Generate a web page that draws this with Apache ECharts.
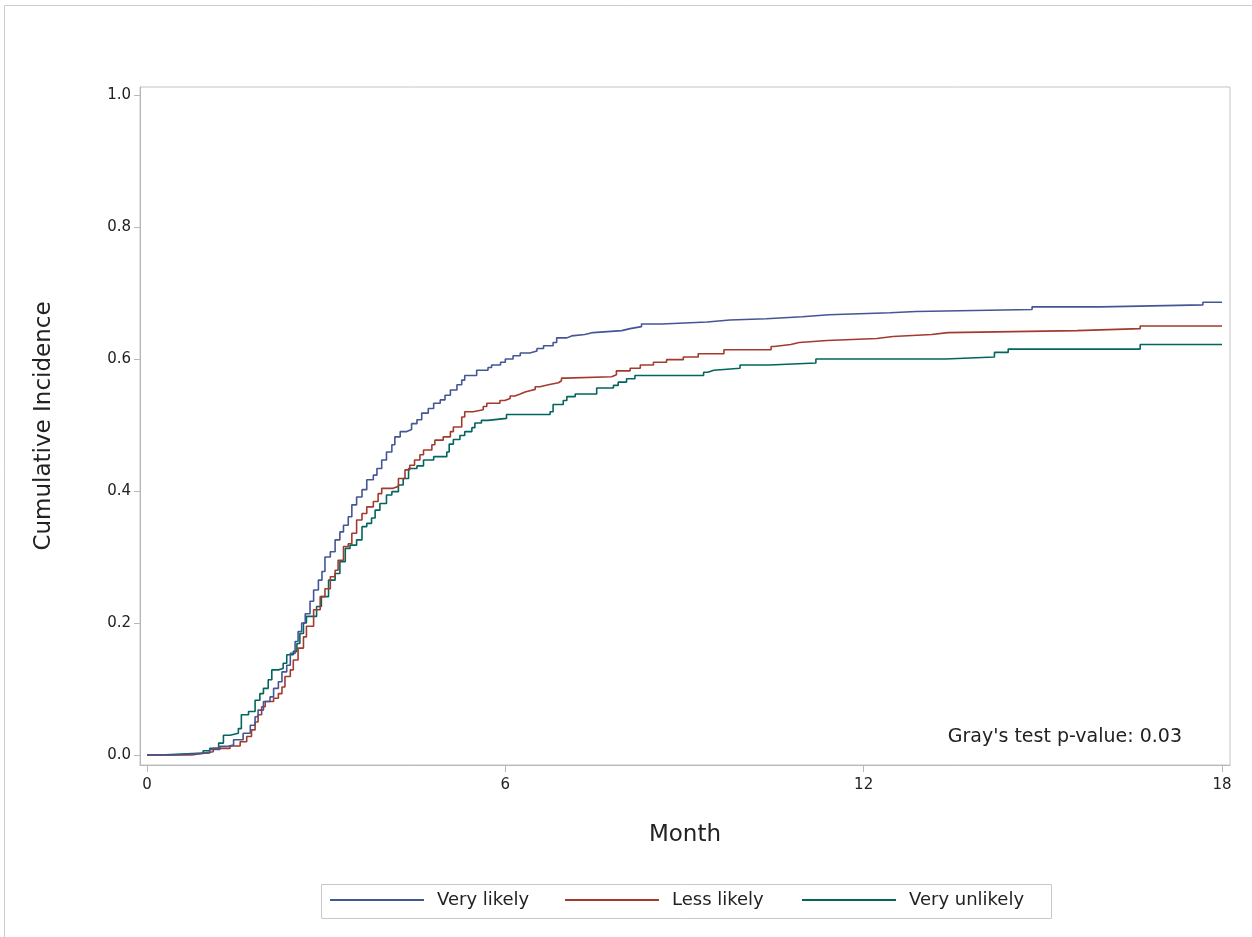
<!DOCTYPE html>
<html>
<head>
<meta charset="utf-8">
<script src="https://cdn.jsdelivr.net/npm/echarts@6/dist/echarts.min.js"></script>
<style>html,body{margin:0;padding:0;background:#fff}#c{width:1252px;height:937px}</style>
</head>
<body>
<div id="c"></div>
<script>
var seriesNames = ['Very likely', 'Less likely', 'Very unlikely'];
var xTicks = [0, 6, 12, 18];
var yTicks = [0, 0.2, 0.4, 0.6, 0.8, 1.0];
var annotation = "Gray's test p-value: 0.03";

var veryLikely = [[0,0],[0.44,0.003],[1.05,0.0085],[1.22,0.013],[1.33,0.015],[1.45,0.023],[1.61,0.033],[1.73,0.045],[1.81,0.058],[1.86,0.068],[1.95,0.081],[2.06,0.088],[2.12,0.101],[2.20,0.111],[2.26,0.126],[2.34,0.136],[2.40,0.154],[2.48,0.172],[2.53,0.187],[2.59,0.200],[2.65,0.214],[2.73,0.233],[2.79,0.250],[2.87,0.265],[2.93,0.278],[2.98,0.300],[3.07,0.308],[3.15,0.326],[3.23,0.338],[3.29,0.348],[3.37,0.361],[3.43,0.379],[3.51,0.391],[3.60,0.402],[3.68,0.417],[3.79,0.424],[3.85,0.434],[3.93,0.447],[4.01,0.459],[4.10,0.470],[4.15,0.482],[4.24,0.490],[4.35,0.493],[4.43,0.502],[4.52,0.508],[4.60,0.518],[4.71,0.525],[4.80,0.533],[4.91,0.538],[4.99,0.545],[5.08,0.553],[5.19,0.561],[5.27,0.568],[5.32,0.575],[5.52,0.583],[5.71,0.587],[5.77,0.591],[5.92,0.595],[6.00,0.600],[6.13,0.605],[6.25,0.609],[6.41,0.612],[6.53,0.616],[6.64,0.620],[6.80,0.625],[6.86,0.632],[7.03,0.635],[7.11,0.637],[7.33,0.640],[7.47,0.643],[7.95,0.646],[8.09,0.649],[8.28,0.653],[8.62,0.656],[9.38,0.659],[9.76,0.661],[10.37,0.664],[10.97,0.667],[11.42,0.670],[12.44,0.672],[12.88,0.675],[14.82,0.679],[15.97,0.682],[17.68,0.686],[18.0,0.686]];

var lessLikely = [[0,0],[0.75,0.0025],[0.92,0.005],[1.11,0.010],[1.39,0.0136],[1.56,0.020],[1.67,0.028],[1.75,0.038],[1.81,0.050],[1.86,0.061],[1.92,0.073],[1.98,0.081],[2.12,0.086],[2.20,0.093],[2.26,0.103],[2.31,0.119],[2.40,0.129],[2.45,0.144],[2.53,0.162],[2.62,0.179],[2.67,0.195],[2.79,0.220],[2.90,0.240],[2.98,0.252],[3.07,0.270],[3.15,0.280],[3.20,0.295],[3.29,0.316],[3.37,0.320],[3.43,0.336],[3.51,0.356],[3.60,0.366],[3.68,0.376],[3.79,0.384],[3.87,0.396],[3.93,0.404],[4.12,0.407],[4.21,0.419],[4.32,0.432],[4.40,0.439],[4.48,0.447],[4.57,0.455],[4.63,0.462],[4.77,0.470],[4.82,0.477],[4.96,0.482],[5.08,0.490],[5.13,0.497],[5.27,0.512],[5.32,0.520],[5.46,0.523],[5.63,0.528],[5.69,0.533],[5.91,0.537],[5.99,0.540],[6.08,0.544],[6.16,0.547],[6.25,0.550],[6.33,0.552],[6.41,0.554],[6.50,0.558],[6.58,0.561],[6.72,0.564],[6.89,0.567],[6.94,0.571],[7.00,0.573],[7.78,0.576],[7.86,0.582],[8.09,0.586],[8.26,0.591],[8.48,0.595],[8.70,0.599],[8.98,0.603],[9.23,0.608],[9.66,0.614],[10.45,0.619],[10.50,0.622],[10.78,0.625],[10.92,0.628],[11.39,0.631],[12.22,0.634],[12.49,0.637],[13.14,0.640],[13.41,0.643],[15.57,0.646],[16.63,0.650],[18.0,0.650]];

var veryUnlikely = [[0,0],[0.22,0.003],[0.94,0.0065],[1.05,0.010],[1.20,0.018],[1.28,0.030],[1.39,0.033],[1.53,0.040],[1.58,0.061],[1.70,0.066],[1.81,0.083],[1.89,0.093],[1.95,0.101],[2.03,0.114],[2.09,0.129],[2.20,0.131],[2.28,0.139],[2.34,0.152],[2.45,0.157],[2.51,0.169],[2.56,0.184],[2.62,0.200],[2.67,0.210],[2.84,0.225],[2.92,0.240],[3.04,0.265],[3.15,0.275],[3.23,0.293],[3.32,0.313],[3.40,0.318],[3.51,0.326],[3.60,0.346],[3.68,0.351],[3.76,0.359],[3.82,0.371],[3.90,0.381],[4.01,0.394],[4.10,0.399],[4.21,0.409],[4.29,0.419],[4.38,0.434],[4.52,0.438],[4.63,0.447],[4.80,0.452],[5.02,0.459],[5.06,0.471],[5.13,0.478],[5.24,0.484],[5.32,0.490],[5.44,0.496],[5.49,0.503],[5.60,0.507],[5.71,0.510],[6.02,0.516],[6.75,0.520],[6.80,0.531],[6.97,0.537],[7.03,0.543],[7.17,0.547],[7.53,0.556],[7.81,0.560],[7.89,0.565],[8.03,0.570],[8.17,0.575],[9.32,0.580],[9.39,0.583],[9.49,0.586],[9.93,0.591],[10.42,0.594],[11.20,0.600],[13.37,0.603],[14.19,0.610],[14.42,0.615],[16.63,0.622],[18.0,0.622]];

var colors = ['#445694', '#A23A2E', '#01665E'];
var seriesData = [veryLikely, lessLikely, veryUnlikely];
var legendLefts = [330, 565, 802];
var FONT = 'DejaVu Sans';

var chart = echarts.init(document.getElementById('c'), null, {renderer: 'canvas'});

var series = seriesNames.map(function (n, i) {
  return {
    name: n, type: 'line', step: 'end', data: seriesData[i],
    showSymbol: false, symbol: 'none',
    lineStyle: {color: colors[i], width: 1.6},
    itemStyle: {color: colors[i]},
    emphasis: {disabled: true}, z: 3 - i
  };
});

var legends = seriesNames.map(function (n, i) {
  return {
    data: [n], left: legendLefts[i], top: 891, padding: 0,
    icon: 'rect', itemWidth: 94, itemHeight: 2,
    selectedMode: false,
    textStyle: {fontFamily: FONT, fontSize: 18, color: '#222', padding: [0, 0, 0, 8]}
  };
});

chart.setOption({
  animation: false,
  backgroundColor: '#fff',
  color: colors,
  grid: {left: 140, top: 87, right: 22, bottom: 172, show: true, borderColor: '#c4c4c4', borderWidth: 1, containLabel: false},
  xAxis: {
    type: 'value', min: -0.117, max: 18.134,
    name: 'Month', nameLocation: 'middle', nameGap: 59,
    nameTextStyle: {fontFamily: FONT, fontSize: 23, color: '#222'},
    axisLine: {show: true, onZero: false, lineStyle: {color: '#b8b8b8', width: 1}},
    axisTick: {show: true, length: 7, customValues: xTicks, lineStyle: {color: '#b8b8b8'}},
    axisLabel: {customValues: xTicks, margin: 13, fontFamily: FONT, fontSize: 15, color: '#222'},
    splitLine: {show: false}
  },
  yAxis: {
    type: 'value', min: -0.01515, max: 1.0121,
    name: 'Cumulative Incidence', nameLocation: 'middle', nameGap: 84, nameRotate: 90,
    nameTextStyle: {fontFamily: FONT, fontSize: 23, color: '#222'},
    axisLine: {show: true, onZero: false, lineStyle: {color: '#b8b8b8', width: 1}},
    axisTick: {show: true, length: 6, customValues: yTicks, lineStyle: {color: '#b8b8b8'}},
    axisLabel: {customValues: yTicks, margin: 9, fontFamily: FONT, fontSize: 15, color: '#222',
      formatter: function (v) { return v.toFixed(1); }},
    splitLine: {show: false}
  },
  legend: legends,
  series: series,
  graphic: [
    {type: 'rect', silent: true, shape: {x: 4.5, y: 5.5, width: 1300, height: 1000}, style: {fill: 'none', stroke: '#cccccc', lineWidth: 1}, z: -10},
    {type: 'rect', silent: true, shape: {x: 321.5, y: 884.5, width: 730, height: 34}, style: {fill: 'none', stroke: '#c8c8c8', lineWidth: 1}},
    {type: 'text', silent: true, x: 1182, y: 737, style: {text: annotation, align: 'right', verticalAlign: 'middle', fontFamily: FONT, fontSize: 19, fill: '#222'}}
  ]
});
</script>
</body>
</html>
